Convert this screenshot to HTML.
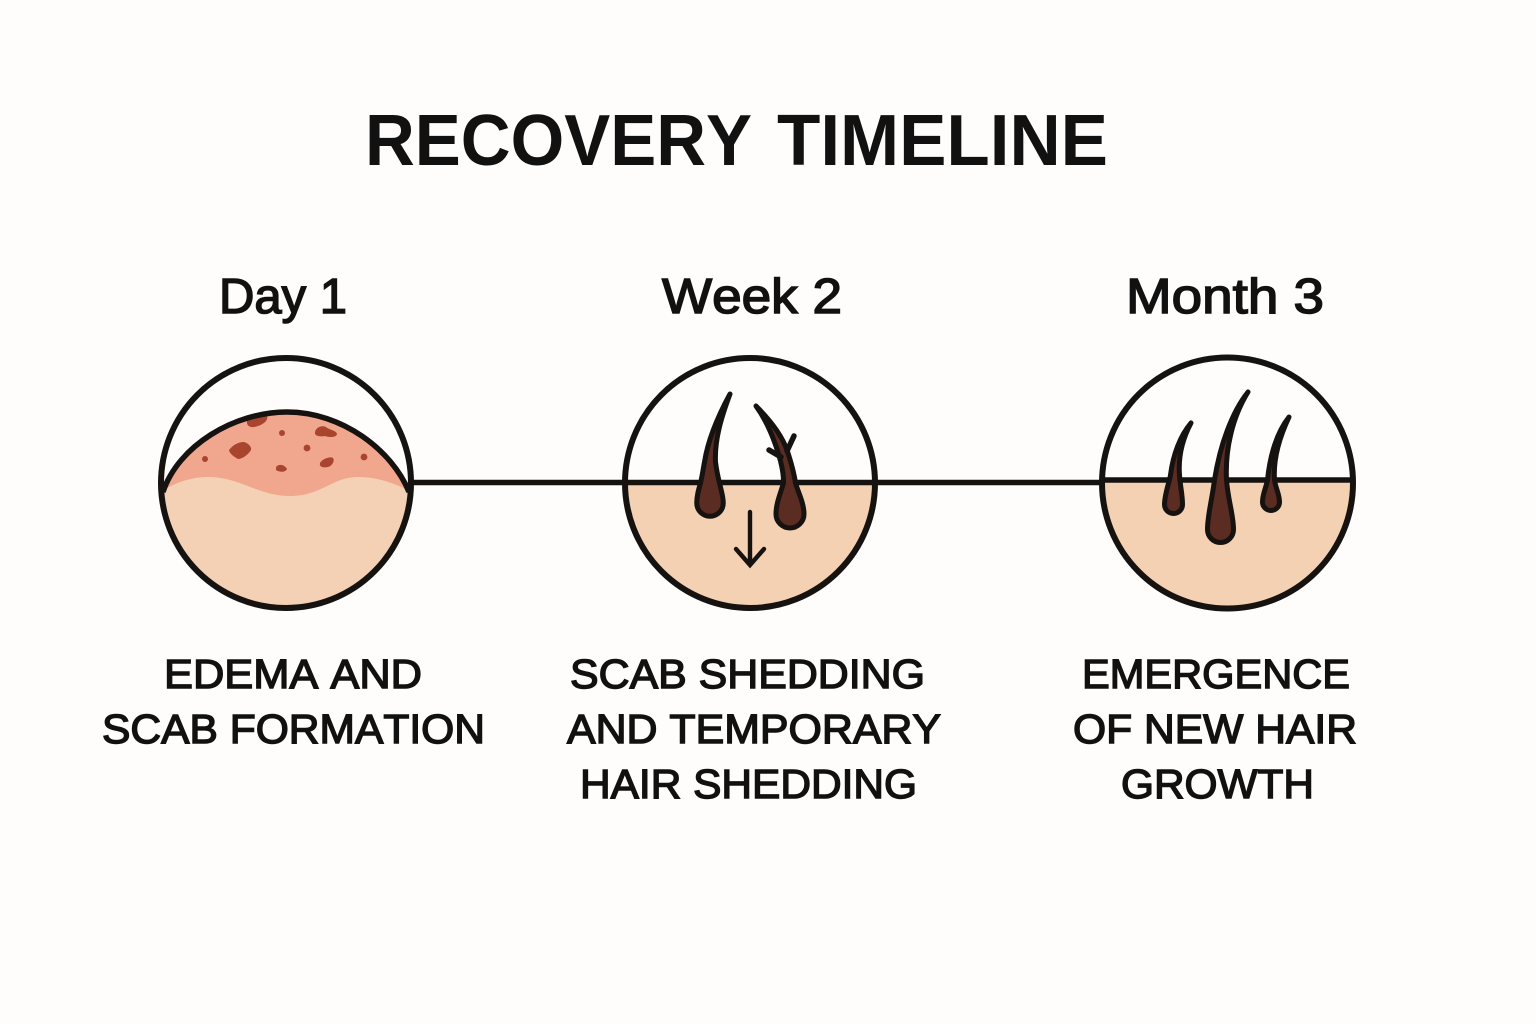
<!DOCTYPE html>
<html lang="en">
<head>
<meta charset="utf-8">
<title>Recovery Timeline</title>
<style>
html,body{margin:0;padding:0;background:#fefdfb;}
svg{display:block;}
text{font-family:"Liberation Sans",sans-serif;fill:#111;font-kerning:none;}
.t{font-weight:700;font-size:72px;}
.h{font-weight:400;font-size:49px;stroke:#111;stroke-width:1.5px;}
.l{font-weight:400;font-size:41px;stroke:#111;stroke-width:1.4px;}
.hair{fill:#5a2c22;stroke:#161210;stroke-width:5;stroke-linejoin:round;}
</style>
</head>
<body>
<svg width="1536" height="1024" viewBox="0 0 1536 1024" xmlns="http://www.w3.org/2000/svg">
<rect width="1536" height="1024" fill="#fefdfb"/>
<defs>
<clipPath id="c1"><circle cx="286" cy="483" r="125"/></clipPath>
<clipPath id="c2"><circle cx="750" cy="483" r="125"/></clipPath>
<clipPath id="c3"><circle cx="1227.5" cy="483" r="125.5"/></clipPath>
</defs>

<text class="t" x="365" y="165" textLength="387" lengthAdjust="spacingAndGlyphs">RECOVERY</text>
<text class="t" x="777" y="165" textLength="331" lengthAdjust="spacingAndGlyphs">TIMELINE</text>

<text class="h" x="219" y="313" textLength="128" lengthAdjust="spacingAndGlyphs">Day 1</text>
<text class="h" x="662" y="313" textLength="180" lengthAdjust="spacingAndGlyphs">Week 2</text>
<text class="h" x="1126" y="313" textLength="198" lengthAdjust="spacingAndGlyphs">Month 3</text>

<!-- connectors -->
<path d="M410 482.5H624M876 482.5H1102" stroke="#161210" stroke-width="5.5" fill="none"/>

<!-- Circle 1 -->
<circle cx="286" cy="483" r="125" fill="#fefdfb"/>
<g clip-path="url(#c1)">
<path d="M162 496C178 446 234 412 287 412C342 412 392 450 410 496L410 520L162 520Z" fill="#f0a78e"/>
<path d="M160 492C176 482 192 477 208 477C240 477 258 496 290 496C322 496 332 477 358 477C376 477 392 482 412 492L412 620L160 620Z" fill="#f4d1b5"/>
</g>
<g fill="#a9452f">
<path d="M248 418C251 413 262 413 267 416C269 421 261 426 254 427C248 428 245 423 248 418Z"/>
<path d="M229 450C233 445 238 442 244 442C248 443 252 447 251 450C248 455 242 459 238 459C234 457 229 453 229 450Z"/>
<path d="M315 432C316 427 322 425 326 427C329 430 336 430 337 434C337 437 330 438 325 436C320 437 314 436 315 432Z"/>
<path d="M320 463C322 459 330 456 333 458C335 461 332 466 328 467C323 468 319 467 320 463Z"/>
<path d="M276 467C279 463 285 465 287 469C285 473 279 472 276 470Z"/>
<circle cx="282" cy="433" r="3"/>
<circle cx="307" cy="448" r="3.4"/>
<circle cx="205" cy="459" r="3"/>
<circle cx="364" cy="457" r="3.4"/>
</g>
<path d="M163 492C178 446 234 412 287 412C342 412 392 450 409 492" fill="none" stroke="#161210" stroke-width="5.5"/>
<circle cx="286" cy="483" r="125" fill="none" stroke="#161210" stroke-width="6"/>

<!-- Circle 2 -->
<circle cx="750" cy="483" r="125" fill="#fefdfb"/>
<g clip-path="url(#c2)">
<rect x="620" y="482" width="260" height="130" fill="#f4d1b3"/>
<path d="M620 482.5H880" stroke="#161210" stroke-width="5.5"/>
</g>
<path class="hair" d="M730 394C717 418 708 440 704.5 462C703 470 702 477 700.5 483C698.5 490 696.75 496 696.75 503A13.25 13.25 0 0 0 723.25 503C723.25 496 721 490 719.5 483C718 477 716.5 470 715.5 462C714.5 440 721 418 730 394Z"/>
<path class="hair" d="M756 406C770 420 782 436 787 450C791 462 794 473 795.5 483C798 492 804 503 804 514A14 14 0 0 1 776 514C776 503 781 492 783.5 483C784 465 772 428 756 406Z"/>
<path d="M769 450L781 457M794 436L787 451" stroke="#161210" stroke-width="5.5" stroke-linecap="round" fill="none"/>
<path d="M750 512V565M736 549L750 565L764 549" stroke="#161210" stroke-width="4.4" stroke-linecap="round" fill="none"/>
<circle cx="750" cy="483" r="125" fill="none" stroke="#161210" stroke-width="6"/>

<!-- Circle 3 -->
<circle cx="1227.5" cy="483" r="125.5" fill="#fefdfb"/>
<g clip-path="url(#c3)">
<rect x="1098" y="480" width="260" height="135" fill="#f4d1b3"/>
<path d="M1098 480H1358" stroke="#161210" stroke-width="5.5"/>
</g>
<path class="hair" d="M1191 423C1180 436 1173 455 1170.5 475C1170 480 1164.5 494 1164.5 504.5A9 9 0 0 0 1182.5 504.5C1182.5 494 1180 485 1179.5 475C1178 455 1183 438 1191 423Z"/>
<path class="hair" d="M1248 392C1232 412 1220 445 1214.5 480C1212 500 1207.5 515 1207.5 529.5A13 13 0 0 0 1233.5 529.5C1233.5 515 1228 500 1226.5 480C1225 450 1232 418 1248 392Z"/>
<path class="hair" d="M1289 417C1277 432 1270 455 1267.5 480C1266 488 1262.5 494 1262.5 502A8.5 8.5 0 0 0 1279.5 502C1279.5 494 1275.5 488 1274.5 480C1273 458 1280 436 1289 417Z"/>
<circle cx="1227.5" cy="483" r="125.5" fill="none" stroke="#161210" stroke-width="6"/>

<!-- Labels -->
<text class="l" x="164" y="688" textLength="258" lengthAdjust="spacingAndGlyphs">EDEMA AND</text>
<text class="l" x="102" y="743" textLength="383" lengthAdjust="spacingAndGlyphs">SCAB FORMATION</text>

<text class="l" x="570" y="688" textLength="355" lengthAdjust="spacingAndGlyphs">SCAB SHEDDING</text>
<text class="l" x="567" y="743" textLength="374" lengthAdjust="spacingAndGlyphs">AND TEMPORARY</text>
<text class="l" x="580" y="798" textLength="337" lengthAdjust="spacingAndGlyphs">HAIR SHEDDING</text>

<text class="l" x="1082" y="688" textLength="268" lengthAdjust="spacingAndGlyphs">EMERGENCE</text>
<text class="l" x="1073" y="743" textLength="284" lengthAdjust="spacingAndGlyphs">OF NEW HAIR</text>
<text class="l" x="1121" y="798" textLength="193" lengthAdjust="spacingAndGlyphs">GROWTH</text>
</svg>
</body>
</html>
